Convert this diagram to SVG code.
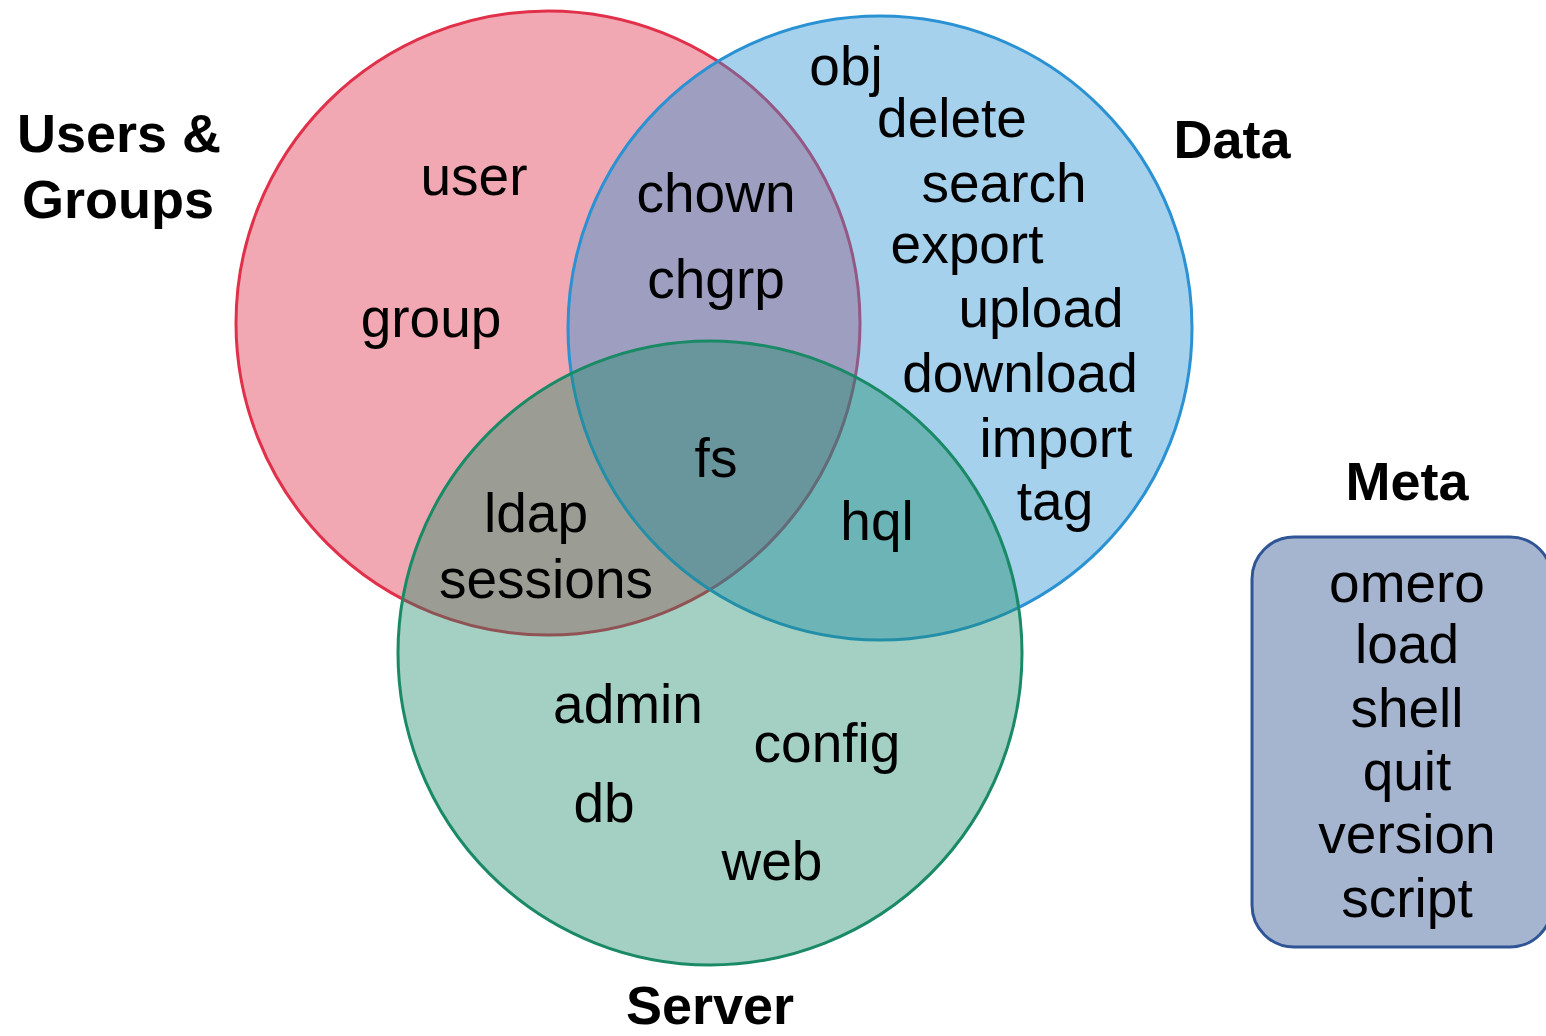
<svg xmlns="http://www.w3.org/2000/svg" width="1546" height="1036" viewBox="0 0 1546 1036">
<style>
.t{font-family:"Liberation Sans",Arial,sans-serif;font-size:55px;fill:#000;text-anchor:middle}
.h{font-family:"Liberation Sans",Arial,sans-serif;font-size:54px;font-weight:bold;fill:#000;text-anchor:middle}
</style>
<rect width="1546" height="1036" fill="#fff"/>
<g id="users-groups">
<circle cx="548" cy="323" r="312" fill="#e0304a" fill-opacity="0.42" stroke="#e0304a" stroke-width="3"/>
</g>
<g id="data">
<circle cx="880" cy="328" r="312" fill="#2a92d3" fill-opacity="0.42" stroke="#2a92d3" stroke-width="3"/>
</g>
<g id="server">
<circle cx="710" cy="653" r="312" fill="#1a8a66" fill-opacity="0.4" stroke="#1a8a66" stroke-width="3"/>
</g>
<g id="meta">
<rect x="1252" y="537" width="300" height="410" rx="42" fill="#a6b5cf" stroke="#2f5596" stroke-width="3"/>
</g>
<g id="connectors"></g>
<g id="labels">
<text class="h" x="119" y="152">Users &amp;</text>
<text class="h" x="118" y="218">Groups</text>
<text class="h" x="1232" y="158">Data</text>
<text class="h" x="1407" y="500">Meta</text>
<text class="h" x="710" y="1024">Server</text>
</g>
<g id="items">
<text class="t" x="474" y="195">user</text>
<text class="t" x="431" y="337">group</text>
<text class="t" x="716" y="212">chown</text>
<text class="t" x="716" y="298">chgrp</text>
<text class="t" x="716" y="477">fs</text>
<text class="t" x="536" y="532">ldap</text>
<text class="t" x="546" y="598">sessions</text>
<text class="t" x="877" y="540">hql</text>
<text class="t" x="846" y="85">obj</text>
<text class="t" x="952" y="137">delete</text>
<text class="t" x="1004" y="202">search</text>
<text class="t" x="967" y="263">export</text>
<text class="t" x="1041" y="327">upload</text>
<text class="t" x="1020" y="392">download</text>
<text class="t" x="1056" y="457">import</text>
<text class="t" x="1055" y="520">tag</text>
<text class="t" x="628" y="723">admin</text>
<text class="t" x="827" y="762">config</text>
<text class="t" x="604" y="822">db</text>
<text class="t" x="772" y="880">web</text>
<text class="t" x="1407" y="602">omero</text>
<text class="t" x="1407" y="663">load</text>
<text class="t" x="1407" y="727">shell</text>
<text class="t" x="1407" y="790">quit</text>
<text class="t" x="1407" y="853">version</text>
<text class="t" x="1407" y="917">script</text>
</g>
</svg>
